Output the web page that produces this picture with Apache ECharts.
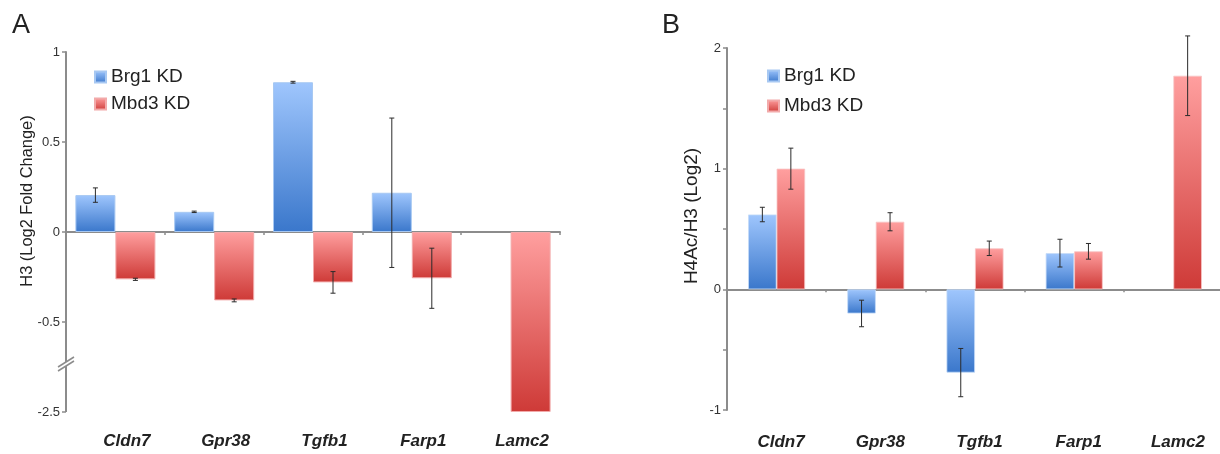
<!DOCTYPE html>
<html>
<head>
<meta charset="utf-8">
<script src="https://cdn.jsdelivr.net/npm/echarts@6/dist/echarts.min.js"></script>
<style>
html,body{margin:0;padding:0;background:#fff;}
#chart{width:1220px;height:454px;}
</style>
</head>
<body>
<div id="chart"></div>
<script>
// ---------- data ----------
var categories = ['Cldn7', 'Gpr38', 'Tgfb1', 'Farp1', 'Lamc2'];
var seriesNames = ['Brg1 KD', 'Mbd3 KD'];

// Panel A: H3 (Log2 Fold Change)
var brgA    = [0.205, 0.112, 0.832, 0.218, null];
var brgAErr = [0.040, 0.004, 0.005, 0.415, null];
var mbdA    = [-0.263, -0.380, -0.280, -0.257, -2.5];
var mbdAErr = [0.006, 0.008, 0.060, 0.167, null];
var ticksA  = [-2.5, -0.5, 0, 0.5, 1];
var breakA  = {start: -2.5, end: -0.5, gap: 0.5};

// Panel B: H4Ac/H3 (Log2)
var brgB    = [0.62, -0.20, -0.69, 0.30, null];
var brgBErr = [0.06, 0.11, 0.20, 0.115, null];
var mbdB    = [1.00, 0.56, 0.34, 0.315, 1.77];
var mbdBErr = [0.17, 0.075, 0.06, 0.065, 0.33];
var ticksB  = [-1, 0, 1, 2];

// ---------- styles ----------
var FONT = 'Liberation Sans, Arial, sans-serif';
var AXIS_COLOR = '#8c8c8c';
function grad(top, bottom) {
  return new echarts.graphic.LinearGradient(0, 0, 0, 1, [
    {offset: 0, color: top}, {offset: 1, color: bottom}
  ]);
}
var blueFill = grad('#9fc6fd', '#3a77cb');
var redFill  = grad('#ff9f9f', '#ce3a37');

function errData(vals, errs) {
  var out = [];
  for (var i = 0; i < vals.length; i++) {
    if (vals[i] != null && errs[i] != null) out.push([i, vals[i], errs[i]]);
  }
  return out;
}
function errRender(sign, barW) {
  return function (params, api) {
    var c = api.value(0), v = api.value(1), e = api.value(2);
    var t = api.coord([c, v + e]);
    var b = api.coord([c, v - e]);
    var x = t[0] + sign * barW / 2;
    var cap = 2.5;
    var st = {stroke: '#2b2b2b', lineWidth: 1};
    return {type: 'group', children: [
      {type: 'line', shape: {x1: x, y1: t[1], x2: x, y2: b[1]}, style: st},
      {type: 'line', shape: {x1: x - cap, y1: t[1], x2: x + cap, y2: t[1]}, style: st},
      {type: 'line', shape: {x1: x - cap, y1: b[1], x2: x + cap, y2: b[1]}, style: st}
    ]};
  };
}
function inList(list, v) {
  for (var i = 0; i < list.length; i++) if (Math.abs(list[i] - v) < 1e-6) return true;
  return false;
}

var BW_A = 40, BW_B = 28.5;

var chart = echarts.init(document.getElementById('chart'), null, {renderer: 'canvas'});

var option = {
  animation: false,
  backgroundColor: '#fff',
  textStyle: {fontFamily: FONT},
  graphic: [
    {type: 'text', x: 12, y: 12, style: {text: 'A', font: '27px ' + FONT, fill: '#222'}},
    {type: 'text', x: 662, y: 12, style: {text: 'B', font: '27px ' + FONT, fill: '#222'}},
    {type: 'text', x: 27, y: 201, rotation: Math.PI / 2,
      style: {text: 'H3 (Log2 Fold Change)', font: '16.4px ' + FONT, fill: '#222', align: 'center', verticalAlign: 'middle'}},
    {type: 'text', x: 692, y: 216, rotation: Math.PI / 2,
      style: {text: 'H4Ac/H3 (Log2)', font: '19px ' + FONT, fill: '#222', align: 'center', verticalAlign: 'middle'}}
  ],
  legend: [
    {orient: 'vertical', left: 89, top: 62, itemWidth: 11, itemHeight: 11, itemGap: 7,
      icon: 'rect', data: seriesNames, selectedMode: false,
      textStyle: {fontSize: 19, lineHeight: 20, color: '#222', fontFamily: FONT}},
    {orient: 'vertical', left: 762, top: 61, itemWidth: 11, itemHeight: 11, itemGap: 10,
      icon: 'rect', data: seriesNames, selectedMode: false,
      textStyle: {fontSize: 19, lineHeight: 20, color: '#222', fontFamily: FONT}}
  ],
  grid: [
    {left: 66, top: 52, width: 494, height: 360, outerBoundsMode: 'none', containLabel: false},
    {left: 727, top: 48, width: 496, height: 362, outerBoundsMode: 'none', containLabel: false}
  ],
  xAxis: [
    {type: 'category', gridIndex: 0, data: categories,
      axisLine: {onZero: true, lineStyle: {color: AXIS_COLOR, width: 2}},
      axisTick: {show: true, length: 3, lineStyle: {color: AXIS_COLOR, width: 1.5}},
      axisLabel: {show: false}},
    {type: 'category', gridIndex: 0, data: categories, position: 'bottom',
      axisLine: {show: false, onZero: false}, axisTick: {show: false},
      axisLabel: {margin: 21, fontSize: 17, fontWeight: 'bold', fontStyle: 'italic', color: '#222',
        fontFamily: FONT, padding: [0, 0, 0, 23]}},
    {type: 'category', gridIndex: 1, data: categories,
      axisLine: {onZero: true, lineStyle: {color: AXIS_COLOR, width: 2}},
      axisTick: {show: true, length: 3, lineStyle: {color: AXIS_COLOR, width: 1.5}},
      axisLabel: {show: false}},
    {type: 'category', gridIndex: 1, data: categories, position: 'bottom',
      axisLine: {show: false, onZero: false}, axisTick: {show: false},
      axisLabel: {margin: 24, fontSize: 17, fontWeight: 'bold', fontStyle: 'italic', color: '#222',
        fontFamily: FONT, padding: [0, 0, 0, 9]}}
  ],
  yAxis: [
    {type: 'value', gridIndex: 0, min: -2.5, max: 1, interval: 0.5,
      breaks: [breakA],
      breakArea: {show: false},
      axisLine: {show: true, onZero: false, lineStyle: {color: AXIS_COLOR, width: 2}},
      axisTick: {show: true, length: 4, lineStyle: {color: AXIS_COLOR, width: 1.5}},
      splitLine: {show: false},
      axisLabel: {margin: 6, fontSize: 13, color: '#333', fontFamily: FONT, showMinLabel: true, showMaxLabel: true,
        formatter: function (v) { return inList(ticksA, v) ? String(v) : ''; }}},
    {type: 'value', gridIndex: 1, min: -1, max: 2, interval: 0.5,
      axisLine: {show: true, onZero: false, lineStyle: {color: AXIS_COLOR, width: 2}},
      axisTick: {show: true, length: 4, lineStyle: {color: AXIS_COLOR, width: 1.5}},
      splitLine: {show: false},
      axisLabel: {margin: 6, fontSize: 13, color: '#333', fontFamily: FONT,
        formatter: function (v) { return inList(ticksB, v) ? String(v) : ''; }}}
  ],
  series: [
    {name: seriesNames[0], type: 'bar', xAxisIndex: 0, yAxisIndex: 0, data: brgA,
      barWidth: BW_A, barGap: '0%',
      itemStyle: {color: blueFill, borderColor: '#a7c8f2', borderWidth: 1}},
    {name: seriesNames[1], type: 'bar', xAxisIndex: 0, yAxisIndex: 0, data: mbdA,
      barWidth: BW_A, barGap: '0%',
      itemStyle: {color: redFill, borderColor: '#f2aaaa', borderWidth: 1}},
    {name: 'errA1', type: 'custom', xAxisIndex: 0, yAxisIndex: 0, data: errData(brgA, brgAErr),
      renderItem: errRender(-1, BW_A), z: 5},
    {name: 'errA2', type: 'custom', xAxisIndex: 0, yAxisIndex: 0, data: errData(mbdA, mbdAErr),
      renderItem: errRender(1, BW_A), z: 5},
    {name: 'breakMark', type: 'custom', xAxisIndex: 0, yAxisIndex: 0,
      data: [[0, breakA.start, breakA.end]],
      clip: false, z: 6,
      renderItem: function (params, api) {
        var pS = api.coord([api.value(0), api.value(1)]);
        var pE = api.coord([api.value(0), api.value(2)]);
        var x = params.coordSys.x, y = (pS[1] + pE[1]) / 2 - 4;
        var st = {stroke: AXIS_COLOR, lineWidth: 1.5};
        return {type: 'group', children: [
          {type: 'line', shape: {x1: x, y1: pE[1], x2: x, y2: pS[1]},
            style: {stroke: AXIS_COLOR, lineWidth: 2}},
          {type: 'polygon', shape: {points: [[x - 8, y + 4], [x + 8, y - 6], [x + 8, y - 2], [x - 8, y + 8]]},
            style: {fill: '#fff'}},
          {type: 'line', shape: {x1: x - 8, y1: y + 4, x2: x + 8, y2: y - 6}, style: st},
          {type: 'line', shape: {x1: x - 8, y1: y + 8, x2: x + 8, y2: y - 2}, style: st}
        ]};
      }},
    {name: seriesNames[0], type: 'bar', xAxisIndex: 2, yAxisIndex: 1, data: brgB,
      barWidth: BW_B, barGap: '0%',
      itemStyle: {color: blueFill, borderColor: '#c4daf7', borderWidth: 0.8}},
    {name: seriesNames[1], type: 'bar', xAxisIndex: 2, yAxisIndex: 1, data: mbdB,
      barWidth: BW_B, barGap: '0%',
      itemStyle: {color: redFill, borderColor: '#f7c4c4', borderWidth: 0.8}},
    {name: 'errB1', type: 'custom', xAxisIndex: 2, yAxisIndex: 1, data: errData(brgB, brgBErr),
      renderItem: errRender(-1, BW_B), z: 5},
    {name: 'errB2', type: 'custom', xAxisIndex: 2, yAxisIndex: 1, data: errData(mbdB, mbdBErr),
      renderItem: errRender(1, BW_B), z: 5}
  ]
};
chart.setOption(option);
</script>
</body>
</html>
